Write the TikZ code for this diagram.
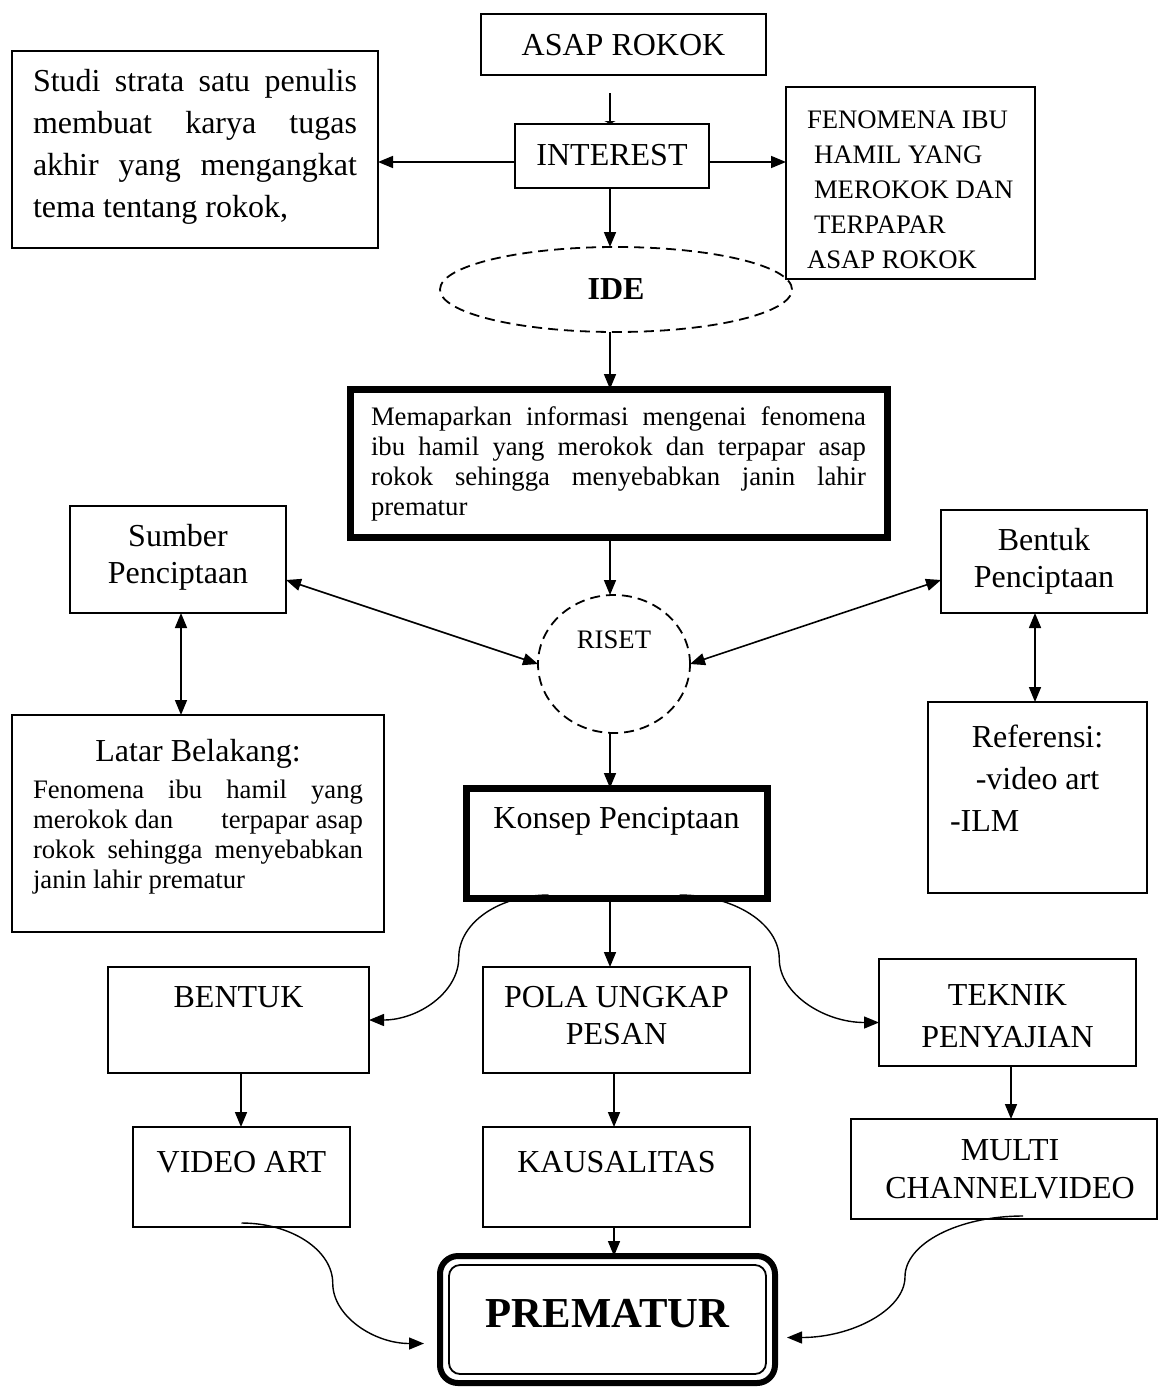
\documentclass[tikz,border=0pt]{standalone}
\usepackage{fontspec}
\setmainfont{Liberation Serif}
\usetikzlibrary{arrows.meta,shapes.geometric,calc}
\newcommand{\bxt}[3]{\parbox[c][#2][t]{#1}{\lineskiplimit=-100pt\relax\parskip=0pt\relax #3}}
\newcommand{\fbig}{\fontsize{32}{42}\selectfont}
\newcommand{\fsmall}{\fontsize{26.7}{30.3}\selectfont}
\begin{document}
\begin{tikzpicture}[x=1pt,y=-1pt,
  bx/.style={draw,rectangle,line width=1.6pt,inner sep=0pt,outer sep=0pt,anchor=north west},
  thickbx/.style={bx,line width=7pt},
  arr/.style={line width=1.6pt,-{Triangle[length=15pt,width=12pt]}},
  darr/.style={line width=1.6pt,{Triangle[length=15pt,width=12pt]}-{Triangle[length=15pt,width=12pt]}},
  carr/.style={line width=1.4pt,-{Triangle[length=15pt,width=12pt]}},
  dsh/.style={draw,ellipse,line width=1.8pt,dash pattern=on 10pt off 6pt,inner sep=0pt,outer sep=0pt},
]
\path[fill=white,use as bounding box] (0,0) rectangle (1159,1387);

% boxes
\node[bx] (asap) at (481,14) {\bxt{285pt}{61pt}{\centering\fbig\rule{0pt}{41pt}ASAP ROKOK\par}};
\node[bx] (interest) at (515,124) {\bxt{194pt}{64pt}{\centering\fbig\rule{0pt}{41pt}INTEREST\par}};
\node[bx] (studi) at (12,51) {\bxt{366pt}{197pt}{\raggedright\fbig
\hspace*{21pt}\makebox[324pt][s]{\rule{0pt}{40pt}Studi strata satu penulis}\\
\hspace*{21pt}\makebox[324pt][s]{membuat karya tugas}\\
\hspace*{21pt}\makebox[324pt][s]{akhir yang mengangkat}\\
\hspace*{21pt}tema tentang rokok,\par}};
\node[bx] (fen) at (786,87) {\bxt{249pt}{192pt}{\raggedright\fsmall\baselineskip=35pt
\hspace*{21pt}\rule{0pt}{41pt}FENOMENA IBU\\
\hspace*{28pt}HAMIL YANG\\
\hspace*{28pt}MEROKOK DAN\\
\hspace*{28pt}TERPAPAR\\
\hspace*{21pt}ASAP ROKOK\par}};
\node[dsh,minimum width=352pt,minimum height=85pt] (ide) at (616,289.5) {\fbig\bfseries IDE};
\node[thickbx] (mema) at (350,389) {\bxt{537pt}{148pt}{\raggedright\fontsize{26.7}{30.3}\selectfont
\hspace*{21pt}\makebox[495pt][s]{\rule{0pt}{36pt}Memaparkan informasi mengenai fenomena}\\
\hspace*{21pt}\makebox[495pt][s]{ibu hamil yang merokok dan terpapar asap}\\
\hspace*{21pt}\makebox[495pt][s]{rokok sehingga menyebabkan janin lahir}\\
\hspace*{21pt}prematur\par}};
\node[dsh,minimum width=152pt,minimum height=138pt] (riset) at (614,664) {\fsmall\raisebox{16pt}[0pt][0pt]{RISET}};
\node[bx] (sumber) at (70,506) {\bxt{216pt}{107pt}{\centering\fbig\baselineskip=37pt\rule{0pt}{40pt}Sumber\\Penciptaan\par}};
\node[bx] (bentukp) at (941,510) {\bxt{206pt}{103pt}{\centering\fbig\baselineskip=37pt\rule{0pt}{40pt}Bentuk\\Penciptaan\par}};
\node[bx] (latar) at (12,715) {\bxt{372pt}{217pt}{\fbig\centering\rule{0pt}{46pt}Latar Belakang:\par\vspace{6.7pt}\raggedright\fsmall
\hspace*{21pt}\makebox[330pt][s]{Fenomena ibu hamil yang}\\
\hspace*{21pt}\makebox[330pt][s]{merokok dan\hfill terpapar asap}\\
\hspace*{21pt}\makebox[330pt][s]{rokok sehingga menyebabkan}\\
\hspace*{21pt}janin lahir prematur\par}};
\node[bx] (ref) at (928,702) {\bxt{219pt}{191pt}{\centering\fbig\rule{0pt}{45pt}Referensi:\\-video art\par\raggedright\hspace*{22pt}-ILM\par}};
\node[thickbx] (konsep) at (466,788) {\bxt{301pt}{110pt}{\centering\fbig\rule{0pt}{40pt}Konsep Penciptaan\par}};
\node[bx] (bentuk) at (108,967) {\bxt{261pt}{106pt}{\centering\fbig\rule{0pt}{40pt}BENTUK\par}};
\node[bx] (pola) at (483,967) {\bxt{267pt}{106pt}{\centering\fbig\baselineskip=37pt\rule{0pt}{40pt}POLA UNGKAP\\PESAN\par}};
\node[bx] (teknik) at (879,959) {\bxt{257pt}{107pt}{\centering\fbig\rule{0pt}{46pt}TEKNIK\\PENYAJIAN\par}};
\node[bx] (video) at (133,1127) {\bxt{217pt}{100pt}{\centering\fbig\rule{0pt}{45pt}VIDEO ART\par}};
\node[bx] (kaus) at (483,1127) {\bxt{267pt}{100pt}{\centering\fbig\rule{0pt}{45pt}KAUSALITAS\par}};
\node[bx] (multi) at (851,1119) {\bxt{306pt}{100pt}{\centering\fbig\baselineskip=38pt\hspace*{12pt}\rule{0pt}{41pt}MULTI\\\hspace*{12pt}CHANNELVIDEO\par}};
\node[draw,rectangle,line width=6pt,rounded corners=18pt,inner sep=0pt,outer sep=0pt,anchor=north west] (prem) at (440,1256) {\bxt{335pt}{127pt}{\centering\fontsize{42.7}{50}\selectfont\bfseries\rule{0pt}{71pt}PREMATUR\par}};
\draw[line width=1.8pt,rounded corners=11pt] ([shift={(9,9)}]prem.north west) rectangle ([shift={(-9,-9)}]prem.south east);

% helper coordinates
\coordinate (ax) at (610,0);
\coordinate (a0) at (610,93);
\coordinate (yi) at (0,162);
\coordinate (ys) at (0,580);
\coordinate (xs) at (181,0);
\coordinate (xb) at (1035,0);
\coordinate (xv) at (241,0);
\coordinate (xk) at (614,0);
\coordinate (xm) at (1011,0);
\coordinate (k1) at ([shift={(-68,-3)}]konsep.south);
\coordinate (k2) at ([shift={(63,-3)}]konsep.south);
\coordinate (b1) at (bentuk.east);
\coordinate (t1) at ([yshift=-10pt]teknik.west);
\coordinate (v1) at ([shift={(0,-4)}]video.south);
\coordinate (m1) at ([shift={(19,-3)}]multi.south);
\coordinate (p1) at ([shift={(-16,24)}]prem.west);
\coordinate (p2) at ([shift={(12,18)}]prem.east);

% connectors
\draw[line width=1.6pt,-{Triangle[length=3pt,width=11pt]}] (a0) -- (interest.north -| a0);
\draw[arr] (interest.west |- yi) -- (studi.east |- yi);
\draw[arr] (interest.east |- yi) -- (fen.west |- yi);
\draw[arr] (interest.south -| ax) -- (ide.north -| ax);
\draw[arr] (ide.south -| ax) -- (mema.north -| ax);
\draw[arr] (mema.south -| ax) -- (riset.north -| ax);
\draw[arr] (riset.south -| ax) -- (konsep.north -| ax);
\draw[arr] (konsep.south -| ax) -- (pola.north -| ax);
\draw[darr] (sumber.east |- ys) -- (riset.west);
\draw[darr] (bentukp.west |- ys) -- (riset.east);
\draw[darr] (sumber.south -| xs) -- (latar.north -| xs);
\draw[darr] (bentukp.south -| xb) -- (ref.north -| xb);
\draw[arr] (bentuk.south -| xv) -- (video.north -| xv);
\draw[arr] (pola.south -| xk) -- (kaus.north -| xk);
\draw[arr] (teknik.south -| xm) -- (multi.north -| xm);
\draw[arr] (kaus.south -| xk) -- (prem.north -| xk);

\draw[carr] (k1) .. controls +(-49,0) and +(0,-35) .. ($(k1)!0.5!(b1)$) .. controls +(0,35) and +(49,0) .. (b1);
\draw[carr] (k2) .. controls +(55,0) and +(0,-35) .. ($(k2)!0.5!(t1)$) .. controls +(0,35) and +(-55,0) .. (t1);
\draw[carr] (v1) .. controls +(50,0) and +(0,-33) .. ($(v1)!0.5!(p1)$) .. controls +(0,33) and +(-50,0) .. (p1);
\draw[carr] (m1) .. controls +(-65,0) and +(0,-33) .. ($(m1)!0.5!(p2)$) .. controls +(0,33) and +(65,0) .. (p2);
\end{tikzpicture}
\end{document}
